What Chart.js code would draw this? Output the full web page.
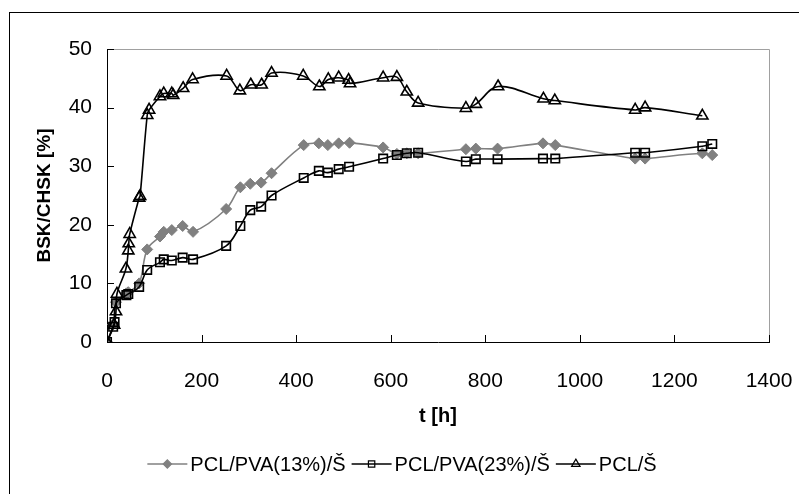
<!DOCTYPE html>
<html>
<head>
<meta charset="utf-8">
<script src="https://cdn.jsdelivr.net/npm/chart.js@4.4.0/dist/chart.umd.min.js"></script>
<style>
  html, body { margin: 0; padding: 0; background: #fff; }
  #wrap { width: 799px; height: 494px; }
</style>
</head>
<body>
<div id="wrap"><canvas id="chart" width="799" height="494"></canvas></div>
<script>
// === DATA ===
// PCL/PVA(13%)/Š
const timePva13 = [0, 13, 19, 41, 45, 68, 85, 112, 120, 137, 160, 182, 252, 282, 303, 326, 348,
  416, 448, 467, 490, 513, 584, 613, 634, 658, 759, 780, 826, 922, 948, 1117, 1138, 1259, 1280];
const valuesPva13 = [0, 3.0, 6.8, 8.3, 8.5, 10.0, 15.8, 18.0, 18.8, 19.1, 19.8, 18.8, 22.7, 26.4, 27.0, 27.2, 28.8,
  33.6, 33.9, 33.6, 33.9, 34.0, 33.2, 32.1, 32.2, 32.2, 32.9, 33.0, 33.0, 33.9, 33.6, 31.3, 31.3, 32.2, 31.9];

// PCL/PVA(23%)/Š
const timePva23 = [0, 13, 16, 19, 41, 45, 68, 85, 112, 120, 137, 160, 182, 252, 282, 303, 326, 348,
  416, 448, 467, 490, 512, 584, 613, 634, 658, 759, 780, 826, 922, 948, 1117, 1138, 1259, 1280];
const valuesPva23 = [0, 2.6, 3.4, 6.6, 8.0, 8.2, 9.4, 12.3, 13.6, 14.1, 13.9, 14.4, 14.1, 16.4, 19.8, 22.5, 23.1, 25.0,
  28.0, 29.2, 28.9, 29.5, 29.9, 31.3, 31.9, 32.2, 32.3, 30.8, 31.2, 31.2, 31.3, 31.3, 32.3, 32.3, 33.4, 33.8];

// PCL/Š
const timePcl = [0, 15, 19, 21, 40, 45, 46, 48, 68, 70, 85, 89, 112, 120, 137, 140, 161, 181, 253, 281, 304, 327, 348,
  415, 449, 468, 490, 511, 514, 584, 613, 634, 658, 759, 780, 827, 923, 947, 1117, 1138, 1259];
const valuesPcl = [0, 2.9, 5.2, 8.2, 12.5, 15.6, 16.8, 18.4, 24.6, 24.9, 38.7, 39.6, 41.9, 42.4, 42.4, 42.1, 43.3, 44.8, 45.4, 42.9, 43.9, 43.9, 45.9,
  45.4, 43.6, 44.8, 45.1, 44.7, 44.1, 45.1, 45.2, 42.7, 40.8, 39.9, 40.6, 43.6, 41.5, 41.2, 39.6, 40.0, 38.6];

const seriesNames = ["PCL/PVA(13%)/Š", "PCL/PVA(23%)/Š", "PCL/Š"];
const xTickValues = [0, 200, 400, 600, 800, 1000, 1200, 1400];
const yTickValues = [0, 10, 20, 30, 40, 50];

const FONT = '"Liberation Sans", Arial, sans-serif';

function toPoints(xs, ys) {
  return xs.map((x, i) => ({ x: x, y: ys[i] }));
}

// === PLUGIN: frame, plot border, inner tick marks ===
const frame = {
  id: "frame",
  beforeDraw(chart) {
    const c = chart.ctx;
    c.save();
    c.fillStyle = "#fff";
    c.fillRect(0, 0, chart.width, chart.height);
    c.strokeStyle = "#000";
    c.lineWidth = 1;
    c.strokeRect(9.5, 12.5, chart.width + 20, chart.height + 20);
    c.restore();
  },
  afterDatasetsDraw(chart) {
    const c = chart.ctx;
    const a = chart.chartArea;
    const xs = chart.scales.x;
    const ys = chart.scales.y;
    c.save();
    c.lineWidth = 1;
    c.strokeStyle = "#a0a0a0";
    c.beginPath();
    c.moveTo(a.left, Math.round(a.top) + 0.5);
    c.lineTo(Math.round(a.right) + 0.5, Math.round(a.top) + 0.5);
    c.lineTo(Math.round(a.right) + 0.5, a.bottom);
    c.stroke();
    c.strokeStyle = "#000";
    c.beginPath();
    xTickValues.forEach(v => {
      const px = Math.round(xs.getPixelForValue(v)) + 0.5;
      c.moveTo(px, a.bottom);
      c.lineTo(px, a.bottom - 7);
    });
    yTickValues.forEach(v => {
      const py = Math.round(ys.getPixelForValue(v)) + 0.5;
      c.moveTo(a.left, py);
      c.lineTo(a.left + 7, py);
    });
    c.stroke();
    c.restore();
  }
};

// === PLUGIN: legend with line + marker samples ===
const lineLegend = {
  id: "lineLegend",
  afterDraw(chart) {
    const c = chart.ctx;
    const y = 464;
    const sample = 40, gapText = 3, gapItem = 6;
    c.save();
    c.font = "20px " + FONT;
    c.textBaseline = "middle";
    c.fillStyle = "#000";
    const widths = seriesNames.map(n => c.measureText(n).width);
    const total = widths.reduce((s, w) => s + sample + gapText + w, 0) + gapItem * (seriesNames.length - 1);
    let x = 402 - total / 2;
    chart.data.datasets.forEach((ds, i) => {
      c.strokeStyle = ds.borderColor;
      c.lineWidth = ds.borderWidth;
      c.beginPath();
      c.moveTo(x, y);
      c.lineTo(x + sample, y);
      c.stroke();
      c.fillStyle = ds.pointBackgroundColor;
      c.strokeStyle = ds.pointBorderColor;
      c.lineWidth = 1.2;
      Chart.helpers.drawPoint(c, {
        pointStyle: ds.pointStyle,
        radius: ds.pointRadius * 0.75,
        borderWidth: 1.2
      }, x + sample / 2, y);
      c.fillStyle = "#000";
      c.fillText(seriesNames[i], x + sample + gapText, y + 1);
      x += sample + gapText + widths[i] + gapItem;
    });
    c.restore();
  }
};

// === CHART ===
const ctx = document.getElementById("chart").getContext("2d");
const chart = new Chart(ctx, {
  type: "scatter",
  data: {
    datasets: [
      {
        label: seriesNames[0],
        data: toPoints(timePva13, valuesPva13),
        showLine: true,
        tension: 0.35,
        borderColor: "#808080",
        borderWidth: 1.6,
        pointStyle: "rectRot",
        pointRadius: 5.5,
        pointBackgroundColor: "#808080",
        pointBorderColor: "#808080",
        pointBorderWidth: 1,
        order: 3
      },
      {
        label: seriesNames[1],
        data: toPoints(timePva23, valuesPva23),
        showLine: true,
        tension: 0.35,
        borderColor: "#000",
        borderWidth: 1.6,
        pointStyle: "rect",
        pointRadius: 6,
        pointBackgroundColor: "rgba(0,0,0,0)",
        pointBorderColor: "#000",
        pointBorderWidth: 1.6,
        order: 2
      },
      {
        label: seriesNames[2],
        data: toPoints(timePcl, valuesPcl),
        showLine: true,
        tension: 0.35,
        borderColor: "#000",
        borderWidth: 1.6,
        pointStyle: "triangle",
        pointRadius: 6.5,
        pointBackgroundColor: "rgba(0,0,0,0)",
        pointBorderColor: "#000",
        pointBorderWidth: 1.6,
        order: 1
      }
    ]
  },
  options: {
    responsive: false,
    animation: false,
    devicePixelRatio: 1,
    layout: { padding: { top: 49, right: 30, left: 0, bottom: 0 } },
    plugins: {
      legend: { display: false },
      tooltip: { enabled: false }
    },
    scales: {
      x: {
        type: "linear",
        min: 0,
        max: 1400,
        afterFit: s => { s.height = 152; s.paddingLeft = 0; s.paddingRight = 0; },
        afterBuildTicks: s => { s.ticks = xTickValues.map(v => ({ value: v })); },
        grid: { display: true, drawOnChartArea: false, drawTicks: false },
        border: { display: true, color: "#000", width: 1 },
        ticks: { color: "#000", font: { family: FONT, size: 21 }, padding: 27, maxRotation: 0, callback: v => String(v) },
        title: {
          display: true,
          text: "t [h]",
          color: "#000",
          font: { family: FONT, size: 20, weight: "bold" },
          padding: { top: 0, bottom: 66 }
        }
      },
      y: {
        min: 0,
        max: 50,
        afterFit: s => { s.width = 107; },
        afterBuildTicks: s => { s.ticks = yTickValues.map(v => ({ value: v })); },
        grid: { display: true, drawOnChartArea: false, drawTicks: false },
        border: { display: true, color: "#000", width: 1 },
        ticks: { color: "#000", font: { family: FONT, size: 21 }, padding: 15 },
        title: {
          display: true,
          text: "BSK/CHSK [%]",
          color: "#000",
          font: { family: FONT, size: 19, weight: "bold" },
          padding: { top: 33, bottom: 0 }
        }
      }
    }
  },
  plugins: [frame, lineLegend]
});
</script>
</body>
</html>
